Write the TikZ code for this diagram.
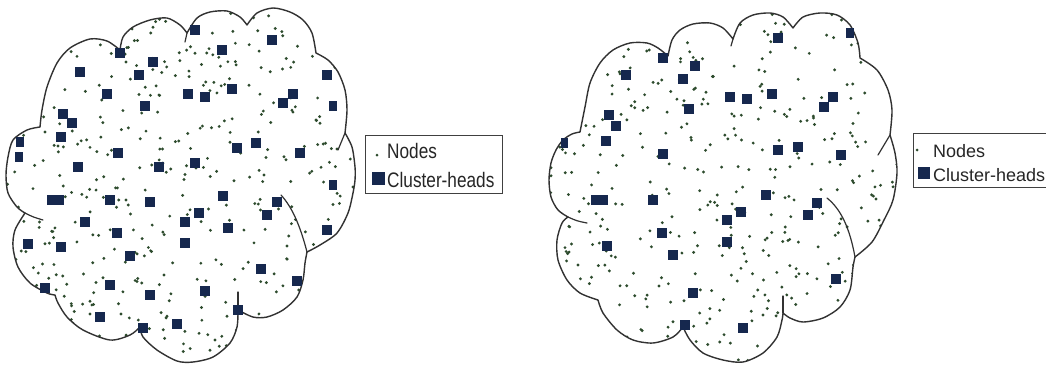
\documentclass[tikz,border=0pt]{standalone}
\usepackage{fontspec}
\newfontfamily\legA[FakeStretch=0.82]{Liberation Sans}
\newfontfamily\legB{Liberation Sans}
\definecolor{outl}{RGB}{50,50,50}
\definecolor{chc}{RGB}{22,40,78}
\definecolor{dotc}{RGB}{45,75,45}
\def\cloudA{(25,213)
 -- plot[smooth] coordinates {(25,213)(17,207)(8,193)(6,175)(8,157)(13,140)(27,130)(40,127)}
 -- plot[smooth] coordinates {(40,127)(42,110)(47,87)(57,63)(70,48)(90,39)(107,41)(120,50)}
 -- plot[smooth] coordinates {(120,50)(123,37)(133,27)(150,20)(167,18)(180,25)(187,33)}
 -- plot[smooth] coordinates {(187,33)(197,18)(210,12)(227,11)(240,17)(247,25)}
 -- plot[smooth] coordinates {(247,25)(257,13)(273,8)(290,12)(303,20)(312,33)(316,53)}
 -- plot[smooth] coordinates {(316,53)(328,60)(338,72)(345,90)(347,110)(345,133)}
 -- plot[smooth] coordinates {(345,133)(352,147)(355,167)(355,180)(353,193)(348,213)(337,233)(320,245)(307,252)}
 -- plot[smooth] coordinates {(307,252)(305,263)(303,280)(297,297)(283,310)(267,317)(253,317)(238,310)}
 -- plot[smooth] coordinates {(238,310)(237,327)(230,343)(213,357)(193,362)(177,361)(157,350)(143,337)(140,327)}
 -- plot[smooth] coordinates {(140,327)(130,335)(110,340)(83,330)(67,317)(58,303)(55,295)}
 -- plot[smooth] coordinates {(55,295)(47,293)(30,283)(18,267)(13,247)(15,230)(25,213)}
 -- cycle}
\def\cloudB{(568,217)
 -- plot[smooth] coordinates {(568,217)(558,210)(551,197)(549,180)(551,163)(556,150)(563,140)(572,134)(580,132)}
 -- plot[smooth] coordinates {(580,132)(585,107)(590,83)(600,63)(613,50)(630,43)(647,43)(658,48)(668,56)}
 -- plot[smooth] coordinates {(668,56)(672,40)(680,30)(693,24)(710,23)(723,28)(733,39)}
 -- plot[smooth] coordinates {(733,39)(740,23)(753,15)(770,13)(783,17)(793,28)}
 -- plot[smooth] coordinates {(793,28)(803,17)(820,13)(837,15)(850,25)(858,43)(860,58)}
 -- plot[smooth] coordinates {(860,58)(877,70)(888,90)(892,110)(890,135)}
 -- plot[smooth] coordinates {(890,135)(895,153)(897,173)(893,200)(884,220)(872,242)(855,257)}
 -- plot[smooth] coordinates {(855,257)(853,267)(850,290)(840,307)(823,318)(803,322)(790,318)(783,313)}
 -- plot[smooth] coordinates {(783,313)(782,320)(777,337)(763,353)(743,362)(723,360)(703,353)(690,340)(683,327)}
 -- plot[smooth] coordinates {(683,327)(673,337)(653,343)(633,340)(617,330)(603,313)(598,300)}
 -- plot[smooth] coordinates {(598,300)(580,293)(567,280)(558,260)(557,240)(562,223)(568,217)}
 -- cycle}
\begin{document}
\begin{tikzpicture}[x=1pt,y=-1pt,
  outline/.style={draw=outl, line width=1.4pt, line join=round},
  tail/.style={draw=outl, line width=1.2pt, line cap=round},
  chsq/.style={fill=chc},
  dotmark/.style={fill=dotc},
  legbox/.style={draw=black!75, line width=1pt},
  legtxt/.style={anchor=base west, inner sep=0pt, text=black!85}]
\useasboundingbox (0,0) rectangle (1046,365);
\clip (0,0) rectangle (1046,365);
\fill[white] (0,0) rectangle (1046,365);

% ---------- left cloud ----------
\fill[white] \cloudA;
\begin{scope}
  \clip \cloudA;
  \pgfmathsetseed{7}
  \foreach \i in {1,...,470}{
    \pgfmathsetmacro{\rx}{5+352*rnd}
    \pgfmathsetmacro{\ry}{8+355*rnd}
    \fill[dotmark] (\rx,\ry) circle[radius=1.6];
  }
\end{scope}
\draw[outline] \cloudA;
\draw[tail] (25,213) .. controls (33,217) .. (43,220);
\draw[tail] (238,310) -- (238,292);
\draw[tail] (307,252) .. controls (300,225) and (292,207) .. (281,195);
\draw[tail] (187,33) -- (185,42);
\draw[tail] (345,133) -- (338,150);
\foreach \x/\y/\w in {120/53/10, 80/72/10, 153/62/10, 139/75/10, 107/94/10, 145/106/10, 188/94/10,
  205/97/10, 232/89/10, 222/50/10, 195/30/10, 272/40/10, 327/75/10, 293/94/10, 283/103/10, 333/106/8,
  63/114/10, 72/123/10, 61/137/10, 20/142/8, 19/157/8, 118/153/10, 78/167/10, 159/167/10, 195/163/10,
  237/148/10, 256/143/10, 300/153/10, 333/185/8, 55/200/17, 110/200/10, 150/202/10, 223/196/10,
  277/202/10, 199/213/10, 185/222/10, 267/215/10, 85/222/10, 117/233/10, 228/228/10, 28/244/10,
  61/247/10, 130/256/10, 185/243/10, 327/230/10, 261/269/10, 297/281/10, 110/285/10, 150/295/10,
  205/291/10, 45/288/10, 100/317/10, 143/328/10, 177/324/10, 238/310/10}
  \fill[chsq] (\x-\w/2,\y-5) rectangle ++(\w,10);

% legend left
\draw[legbox] (365,135) rectangle (502,193);
\fill[dotmark] (377,155) circle[radius=1.5];
\fill[chsq] (371.5,171.5) rectangle (384.5,184.5);
\node[legtxt, font=\legA\fontsize{21}{21}\selectfont] (lgAa) at (387,158) {Nodes};
\node[legtxt, font=\legA\fontsize{21}{21}\selectfont] (lgAb) at (387,187) {Cluster-heads};

% ---------- right cloud ----------
\fill[white] \cloudB;
\begin{scope}
  \clip \cloudB;
  \pgfmathsetseed{23}
  \foreach \i in {1,...,470}{
    \pgfmathsetmacro{\rx}{547+352*rnd}
    \pgfmathsetmacro{\ry}{10+355*rnd}
    \fill[dotmark] (\rx,\ry) circle[radius=1.6];
  }
\end{scope}
\draw[outline] \cloudB;
\draw[tail] (568,217) .. controls (577,221) .. (587,223);
\draw[tail] (783,313) -- (783,296);
\draw[tail] (855,257) .. controls (850,230) and (842,210) .. (827,198);
\draw[tail] (733,39) -- (731,46);
\draw[tail] (890,135) -- (878,155);
\foreach \x/\y/\w in {663/58/10, 626/75/10, 695/66/10, 683/79/10, 689/109/10, 730/97/10, 747/99/10,
  772/94/10, 778/38/10, 850/33/8, 833/97/10, 824/107/10, 609/115/10, 616/126/10, 606/141/10, 564/143/7,
  663/154/10, 778/150/10, 798/147/10, 841/155/10, 599/200/17, 653/200/10, 766/195/10, 817/203/10,
  741/212/10, 727/220/10, 808/215/10, 662/233/10, 727/242/10, 607/246/10, 673/255/10, 836/279/10,
  693/293/10, 685/325/10, 743/328/10}
  \fill[chsq] (\x-\w/2,\y-5) rectangle ++(\w,10);

% legend right
\draw[legbox] (913,133) rectangle (1052,187);
\fill[dotmark] (917,150) circle[radius=1.5];
\fill[chsq] (917.5,167) rectangle (929.5,178.5);
\node[legtxt, font=\legB\fontsize{18}{18}\selectfont] (lgBa) at (933,157) {Nodes};
\node[legtxt, font=\legB\fontsize{18}{18}\selectfont] (lgBb) at (933,181) {Cluster-heads};
\end{tikzpicture}
\end{document}
